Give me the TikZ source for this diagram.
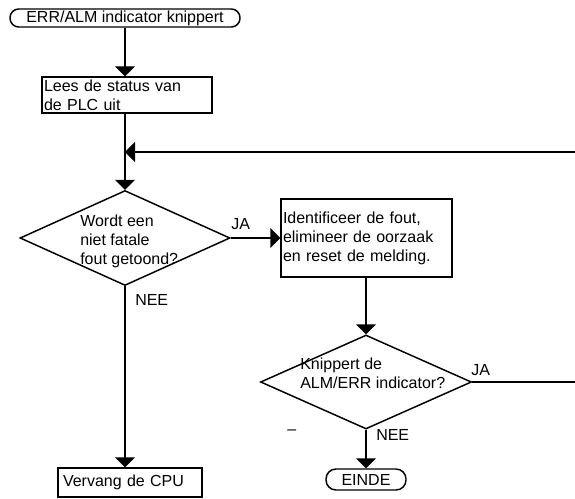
\documentclass[tikz,border=0pt]{standalone}
\usepackage{fontspec}
\setmainfont{Liberation Sans}
\usetikzlibrary{
  arrows.meta,
  shapes.geometric
}
\tikzset{
  flowtext/.style={font=\fontsize{12}{14.25}\selectfont},
  procbox/.style={
    draw,
    line width=1.1pt,
    flowtext,
    align=left,
    inner xsep=1.5pt,
    inner ysep=0pt
  },
  termbox/.style={draw,line width=1.1pt,flowtext,rounded corners=6.5pt,inner sep=0pt},
  decision/.style={diamond,draw,line width=1.1pt,inner sep=0pt},
  qtext/.style={flowtext,align=left,inner sep=0pt,anchor=north west},
  branchlabel/.style={flowtext,inner sep=0pt,anchor=base west},
  flowline/.style={line width=1.1pt},
  flowarrow/.style={flowline,-{Triangle[length=7.5pt,width=15pt]}}
}

\begin{document}
\begin{tikzpicture}[x=0.75pt,y=-0.75pt]
  \useasboundingbox (0,0) rectangle (575,499);

  \node[termbox,minimum width=172.5pt,minimum height=13.5pt] (start) at (125,18) {ERR/ALM indicator knippert};
  \node[procbox,text width=124.5pt,minimum height=27pt] (status) at (127,95) {Lees de status van\\de PLC uit};

  \node[decision,minimum width=157.5pt,minimum height=71.25pt] (q1) at (125,238) {};
  \node[qtext] (q1text) at (80,215) {Wordt een\\niet fatale\\fout getoond?};

  \node[procbox,text width=125.25pt,minimum height=58.5pt] (ident) at (366.5,238) {Identificeer de fout,\\elimineer de oorzaak\\en reset de melding.};

  \node[decision,minimum width=158.25pt,minimum height=70.5pt] (q2) at (366,382) {};
  \node[qtext] (q2text) at (300,358) {Knippert de\\ALM/ERR indicator?};

  \node[procbox,inner xsep=3.75pt,text width=100.5pt,minimum height=21.75pt] (cpu) at (130,482.5) {Vervang de CPU};
  \node[termbox,rounded corners=7.5pt,minimum width=60pt,minimum height=15.75pt] (einde) at (366,479.5) {EINDE};

  \node[branchlabel] (ja1) at (231,229) {JA};
  \node[branchlabel] (nee1) at (135,305) {NEE};
  \node[branchlabel] (ja2) at (471,375) {JA};
  \node[branchlabel] (nee2) at (376,440) {NEE};
  \node[branchlabel] (dash) at (287,434) {--};

  \coordinate (loopin) at (575,152);
  \coordinate (loopout) at (575,382);

  \draw[flowarrow] (start.south) -- (status.north -| start.south);
  \draw[flowarrow] (status.south -| q1.north) -- (q1.north);
  \draw[flowarrow] (loopin) -- (loopin -| q1.north);
  \draw[flowarrow] (q1.east) -- (ident.west);
  \draw[flowarrow] (q1.south) -- (q1.south |- cpu.north);
  \draw[flowarrow] (ident.south -| q2.north) -- (q2.north);
  \draw[flowline] (q2.east) -- (loopout);
  \draw[flowarrow] (q2.south) -- (einde.north);
\end{tikzpicture}
\end{document}
